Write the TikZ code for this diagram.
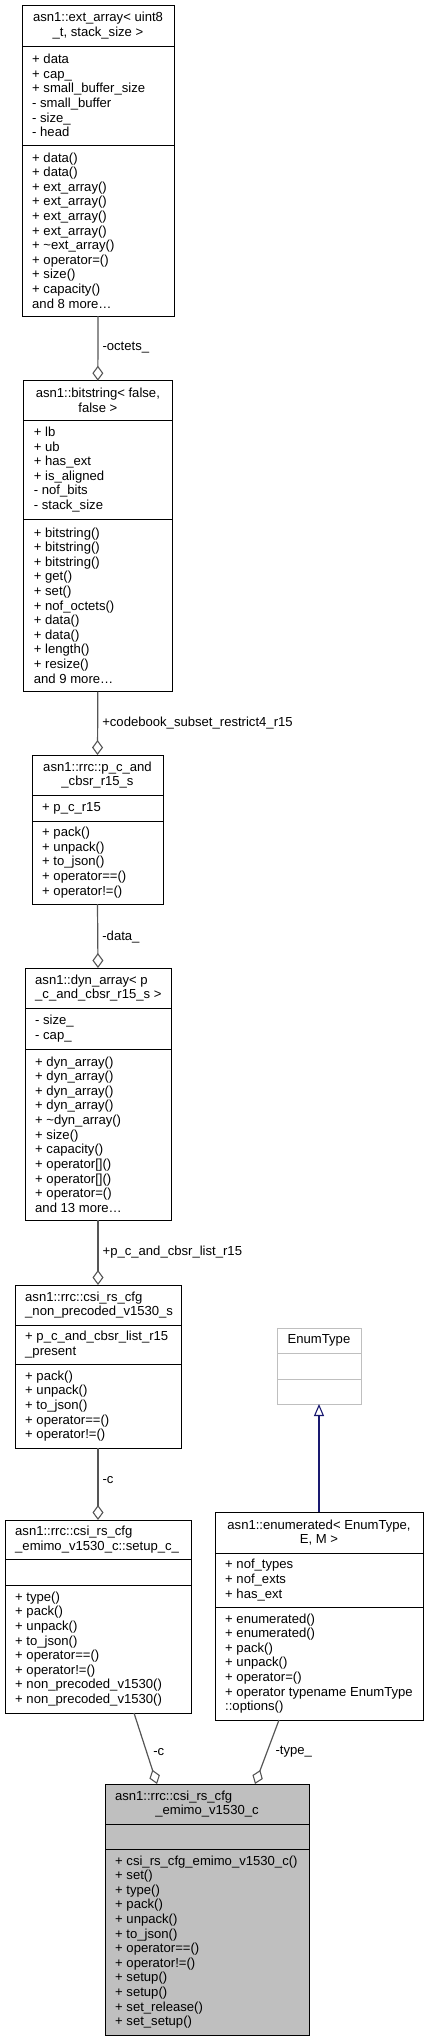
\documentclass[tikz,border=0pt]{standalone}
\usepackage{fontspec}
\setmainfont{Liberation Sans}
\usetikzlibrary{arrows.meta}
\definecolor{mainfill}{HTML}{BFBFBF}
\definecolor{extline}{HTML}{BFBFBF}
\definecolor{edgegray}{HTML}{555555}
\definecolor{inhblue}{HTML}{191970}
\newcommand\compart[6]{\node[#6,minimum width={(#4-#2)*1bp},minimum height={(#5-#3)*1bp}] (#1) at (#2,#3) {};}
\begin{document}
\begin{tikzpicture}[x=1bp,y=-1bp,
  every node/.style={font=\fontsize{13.1bp}{14.6bp}\selectfont},
  compbox/.style={draw=black,line width=1bp,fill=white,anchor=north west,inner sep=0pt,outer sep=0pt},
  mainbox/.style={compbox,fill=mainfill},
  extbox/.style={compbox,draw=extline},
  ctext/.style={align=center,inner sep=0pt},
  ltext/.style={align=left,inner sep=0pt,anchor=west},
  elab/.style={anchor=west,inner sep=0pt,xshift=4bp},
  agg/.style={draw=edgegray,line width=1.2bp,{Diamond[open,length=15bp,width=11bp,line width=1.1bp]}-},
  inh/.style={draw=inhblue,line width=1.2bp,-{Triangle[open,length=12bp,width=10bp,line width=1.1bp]}}
]
\useasboundingbox (0,0) rectangle (429,2043);

% ext_array
\compart{ext-t}{22}{5.5}{174}{46}{compbox}
\compart{ext-a}{22}{46}{174}{145}{compbox}
\compart{ext-m}{22}{145}{174}{316}{compbox}
\node[ctext] (ext-tt) at (ext-t.center) {asn1::ext\_array< uint8\\\_t, stack\_size >};
\node[ltext] (ext-at) at ([xshift=10bp]ext-a.west) {+ data\\+ cap\_\\+ small\_buffer\_size\\- small\_buffer\\- size\_\\- head};
\node[ltext] (ext-mt) at ([xshift=10bp]ext-m.west) {+ data()\\+ data()\\+ ext\_array()\\+ ext\_array()\\+ ext\_array()\\+ ext\_array()\\+ \textasciitilde{}ext\_array()\\+ operator=()\\+ size()\\+ capacity()\\and 8 more…};

% bitstring
\compart{bit-t}{23.7}{380.7}{172}{420}{compbox}
\compart{bit-a}{23.7}{420}{172}{519}{compbox}
\compart{bit-m}{23.7}{519}{172}{691.7}{compbox}
\node[ctext] (bit-tt) at (bit-t.center) {asn1::bitstring< false,\\false >};
\node[ltext] (bit-at) at ([xshift=10bp]bit-a.west) {+ lb\\+ ub\\+ has\_ext\\+ is\_aligned\\- nof\_bits\\- stack\_size};
\node[ltext] (bit-mt) at ([xshift=10bp]bit-m.west) {+ bitstring()\\+ bitstring()\\+ bitstring()\\+ get()\\+ set()\\+ nof\_octets()\\+ data()\\+ data()\\+ length()\\+ resize()\\and 9 more…};

% p_c_and_cbsr_r15_s
\compart{pc-t}{32}{755}{163}{795}{compbox}
\compart{pc-a}{32}{795}{163}{821}{compbox}
\compart{pc-m}{32}{821}{163}{904}{compbox}
\node[ctext] (pc-tt) at (pc-t.center) {asn1::rrc::p\_c\_and\\\_cbsr\_r15\_s};
\node[ltext] (pc-at) at ([xshift=10bp]pc-a.west) {+ p\_c\_r15};
\node[ltext] (pc-mt) at ([xshift=10bp]pc-m.west) {+ pack()\\+ unpack()\\+ to\_json()\\+ operator==()\\+ operator!=()};

% dyn_array
\compart{dyn-t}{25}{968}{171}{1008}{compbox}
\compart{dyn-a}{25}{1008}{171}{1049}{compbox}
\compart{dyn-m}{25}{1049}{171}{1220}{compbox}
\node[ltext] (dyn-tt) at ([xshift=10bp]dyn-t.west) {asn1::dyn\_array< p\\\_c\_and\_cbsr\_r15\_s >};
\node[ltext] (dyn-at) at ([xshift=10bp]dyn-a.west) {- size\_\\- cap\_};
\node[ltext] (dyn-mt) at ([xshift=10bp]dyn-m.west) {+ dyn\_array()\\+ dyn\_array()\\+ dyn\_array()\\+ dyn\_array()\\+ \textasciitilde{}dyn\_array()\\+ size()\\+ capacity()\\+ operator[]()\\+ operator[]()\\+ operator=()\\and 13 more…};

% non_precoded
\compart{np-t}{15}{1285}{181}{1325}{compbox}
\compart{np-a}{15}{1325}{181}{1364}{compbox}
\compart{np-m}{15}{1364}{181}{1448}{compbox}
\node[ltext] (np-tt) at ([xshift=10bp]np-t.west) {asn1::rrc::csi\_rs\_cfg\\\_non\_precoded\_v1530\_s};
\node[ltext] (np-at) at ([xshift=10bp]np-a.west) {+ p\_c\_and\_cbsr\_list\_r15\\\_present};
\node[ltext] (np-mt) at ([xshift=10bp]np-m.west) {+ pack()\\+ unpack()\\+ to\_json()\\+ operator==()\\+ operator!=()};

% setup_c
\compart{su-t}{5}{1520}{191}{1559}{compbox}
\compart{su-a}{5}{1559}{191}{1585}{compbox}
\compart{su-m}{5}{1585}{191}{1713}{compbox}
\node[ltext] (su-tt) at ([xshift=10bp]su-t.west) {asn1::rrc::csi\_rs\_cfg\\\_emimo\_v1530\_c::setup\_c\_};
\node[ltext] (su-mt) at ([xshift=10bp]su-m.west) {+ type()\\+ pack()\\+ unpack()\\+ to\_json()\\+ operator==()\\+ operator!=()\\+ non\_precoded\_v1530()\\+ non\_precoded\_v1530()};

% EnumType
\compart{et-t}{277}{1328}{361}{1353}{extbox}
\compart{et-a}{277}{1353}{361}{1379}{extbox}
\compart{et-m}{277}{1379}{361}{1404}{extbox}
\node[ctext] (et-tt) at (et-t.center) {EnumType};

% enumerated
\compart{en-t}{215}{1512}{423}{1553}{compbox}
\compart{en-a}{215}{1553}{423}{1607}{compbox}
\compart{en-m}{215}{1607}{423}{1720}{compbox}
\node[ctext] (en-tt) at (en-t.center) {asn1::enumerated< EnumType,\\E, M >};
\node[ltext] (en-at) at ([xshift=10bp]en-a.west) {+ nof\_types\\+ nof\_exts\\+ has\_ext};
\node[ltext] (en-mt) at ([xshift=10bp]en-m.west) {+ enumerated()\\+ enumerated()\\+ pack()\\+ unpack()\\+ operator=()\\+ operator typename EnumType\\::options()};

% main class
\compart{mc-t}{105}{1784}{309}{1824}{mainbox}
\compart{mc-a}{105}{1824}{309}{1849}{mainbox}
\compart{mc-m}{105}{1849}{309}{2035}{mainbox}
\node[ctext] (mc-tt) at (mc-t.center) {\makebox[184bp][l]{asn1::rrc::csi\_rs\_cfg}\\\_emimo\_v1530\_c};
\node[ltext] (mc-mt) at ([xshift=10bp]mc-m.west) {+ csi\_rs\_cfg\_emimo\_v1530\_c()\\+ set()\\+ type()\\+ pack()\\+ unpack()\\+ to\_json()\\+ operator==()\\+ operator!=()\\+ setup()\\+ setup()\\+ set\_release()\\+ set\_setup()};

% connectors
\draw[agg] (bit-t.north) -- node[elab,pos=0.505] (l1) {-octets\_} (ext-m.south);
\draw[agg] (pc-t.north) -- node[elab,pos=0.505] (l2) {+codebook\_subset\_restrict4\_r15} (bit-m.south);
\draw[agg] (dyn-t.north) -- node[elab,pos=0.48] (l3) {-data\_} (pc-m.south);
\draw[agg] (np-t.north) -- node[elab,pos=0.51] (l4) {+p\_c\_and\_cbsr\_list\_r15} (dyn-m.south);
\draw[agg] (su-t.north) -- node[elab,pos=0.56] (l5) {-c} (np-m.south);
\draw[agg] ([xshift=52bp]mc-t.north west) -- node[elab,pos=0.45,xshift=2bp] (l6) {-c} ([xshift=129bp]su-m.south west);
\draw[agg] ([xshift=150bp]mc-t.north west) -- node[elab,pos=0.5,xshift=4bp] (l7) {-type\_} ([xshift=64bp]en-m.south west);
\draw[inh] (en-t.north) -- (et-m.south);
\end{tikzpicture}
\end{document}
